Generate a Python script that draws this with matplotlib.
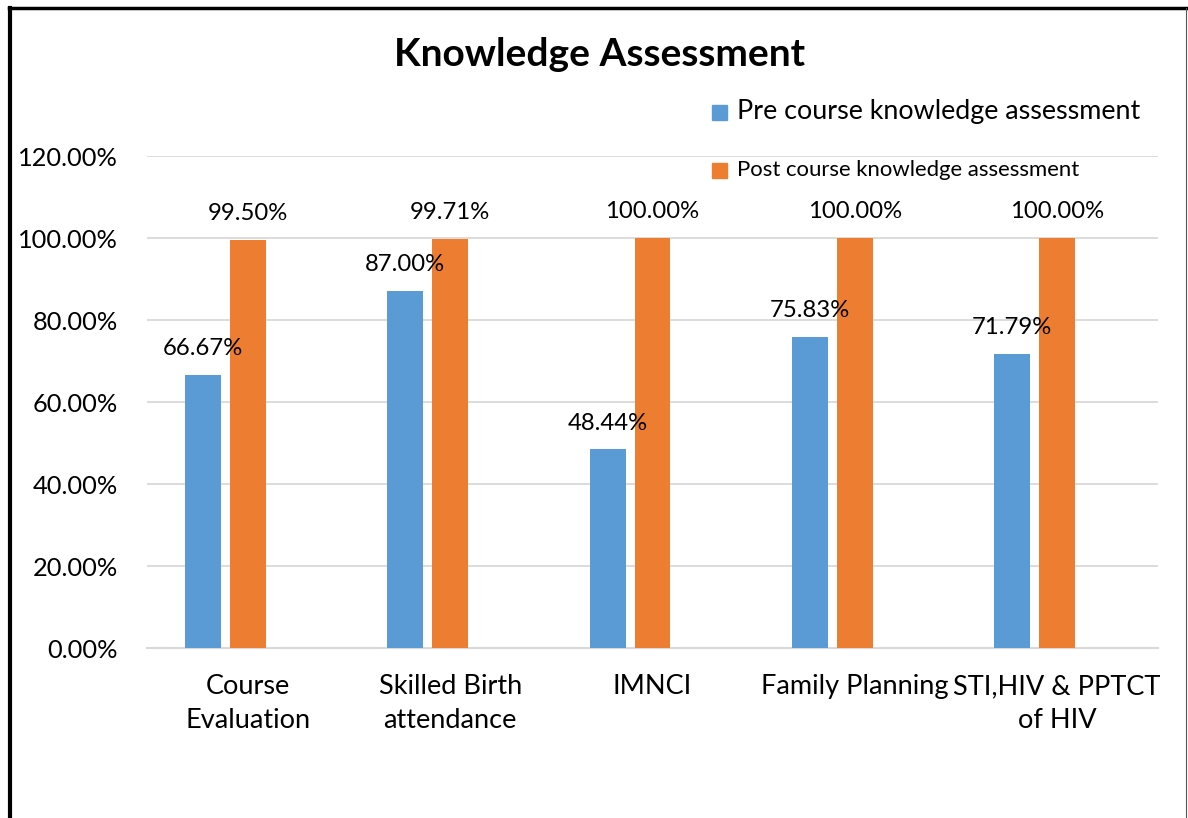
import matplotlib
matplotlib.use("Agg")
import matplotlib.pyplot as plt
from matplotlib.lines import Line2D
from matplotlib.patches import Rectangle
from matplotlib.ticker import FuncFormatter
import numpy as np

plt.rcParams["font.family"] = ["Lato", "DejaVu Sans"]

# ── data ─────────────────────────────────────────────
categories = ["Course\nEvaluation", "Skilled Birth\nattendance", "IMNCI",
              "Family Planning", "STI,HIV & PPTCT\nof HIV"]
pre_course = [0.6667, 0.8700, 0.4844, 0.7583, 0.7179]
post_course = [0.9950, 0.9971, 1.0000, 1.0000, 1.0000]
series_names = ["Pre course knowledge assessment", "Post course knowledge assessment"]
yticks = [0.0, 0.2, 0.4, 0.6, 0.8, 1.0, 1.2]

BLUE = "#5B9BD5"
ORANGE = "#ED7D31"
GRID = "#D9D9D9"

fig = plt.figure(figsize=(11.88, 8.18), dpi=100)
ax = fig.add_axes([147 / 1188, 1 - 648 / 818, (1158 - 147) / 1188, (648 - 156) / 818])

x = np.arange(len(categories))
w = 0.178
off = 0.2225
b1 = ax.bar(x - off, pre_course, w, color=BLUE, zorder=3)
b2 = ax.bar(x, post_course, w, color=ORANGE, zorder=3)

for bars, vals in ((b1, pre_course), (b2, post_course)):
    for r, v in zip(bars, vals):
        ax.annotate(f"{v * 100:.2f}%", (r.get_x() + r.get_width() / 2, v),
                    xytext=(0, 19), textcoords="offset points",
                    ha="center", va="center", fontsize=17.2, color="black")

ax.set_xlim(-0.5, len(categories) - 0.5)
ax.set_ylim(0, 1.2)
ax.set_yticks(yticks)
ax.yaxis.set_major_formatter(FuncFormatter(lambda v, _: f"{v * 100:.2f}%"))
ax.set_xticks(x)
ax.set_xticklabels(categories, fontsize=19.5, linespacing=1.45)
ax.tick_params(axis="y", labelsize=18.3, length=0, pad=21)
ax.tick_params(axis="x", length=0, pad=19)
ax.grid(axis="y", color=GRID, lw=1.3, zorder=0)
for s in ("left", "right", "top"):
    ax.spines[s].set_visible(False)
ax.spines["bottom"].set_color(GRID)
ax.spines["bottom"].set_linewidth(1.5)

# title
fig.text(600 / 1188, 1 - 55 / 818, "Knowledge Assessment", ha="center", va="center",
         fontsize=28, fontweight="bold")

# legend
fig.add_artist(Rectangle((712 / 1188, 1 - 120 / 818), 15 / 1188, 15 / 818,
                         transform=fig.transFigure, color=BLUE))
fig.text(737 / 1188, 1 - 112 / 818, series_names[0], ha="left", va="center", fontsize=19.4)
fig.add_artist(Rectangle((712 / 1188, 1 - 178 / 818), 15 / 1188, 15 / 818,
                         transform=fig.transFigure, color=ORANGE))
fig.text(737 / 1188, 1 - 170 / 818, series_names[1], ha="left", va="center", fontsize=15.9)

# frame
fig.add_artist(Line2D([10 / 1188, 10 / 1188], [0, 1 - 8 / 818], transform=fig.transFigure,
                      color="black", lw=3))
fig.add_artist(Line2D([8.5 / 1188, 1186 / 1188], [1 - 8 / 818, 1 - 8 / 818],
                      transform=fig.transFigure, color="black", lw=2.5))
fig.add_artist(Line2D([1186 / 1188, 1186 / 1188], [0, 1 - 8 / 818], transform=fig.transFigure,
                      color="#555555", lw=0.8))

fig.savefig("out.png", dpi=100)
